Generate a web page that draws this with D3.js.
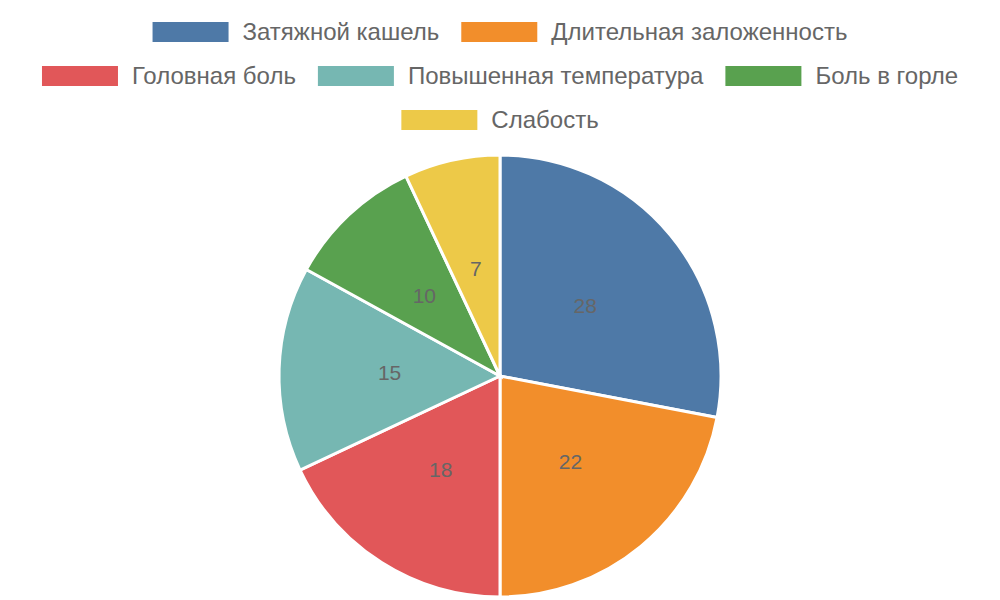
<!DOCTYPE html>
<html>
<head>
<meta charset="utf-8">
<script src="https://cdn.jsdelivr.net/npm/d3@7"></script>
<style>
  body { margin: 0; background: #fff; }
  svg { display: block; font-family: "Liberation Sans", Arial, sans-serif; }
</style>
</head>
<body>
<div id="chart"></div>
<script>
var categories = ["Затяжной кашель", "Длительная заложенность", "Головная боль",
                  "Повышенная температура", "Боль в горле", "Слабость"];
var values = [28, 22, 18, 15, 10, 7];
var colors = ["#4e79a7", "#f28e2b", "#e15759", "#76b7b2", "#59a14f", "#edc948"];

var wid = 1000, heig = 600;
var cx = 500, cy = 376, radius = 221;

var svg = d3.select("#chart").append("svg")
    .attr("width", wid)
    .attr("height", heig);

// legend, wrapped into centered rows like the original
var legend = svg.append("g").attr("class", "legend");
var boxW = 76, boxH = 20, boxGap = 14, itemGap = 22, rowH = 44, maxRow = 940;

var items = categories.map(function(c, i) {
  var g = legend.append("g");
  g.append("rect")
    .attr("width", boxW)
    .attr("height", boxH)
    .attr("y", -boxH / 2)
    .attr("fill", colors[i]);
  var t = g.append("text")
    .attr("x", boxW + boxGap)
    .attr("dy", "0.35em")
    .style("font-size", "24px")
    .style("fill", "#666")
    .text(c);
  return { g: g, w: boxW + boxGap + t.node().getComputedTextLength() };
});

var rows = [[]], rowW = [0];
items.forEach(function(it) {
  var r = rows.length - 1;
  var add = rows[r].length ? itemGap + it.w : it.w;
  if (rows[r].length && rowW[r] + add > maxRow) {
    rows.push([it]); rowW.push(it.w);
  } else {
    rows[r].push(it); rowW[r] += add;
  }
});
rows.forEach(function(row, r) {
  var x = (wid - rowW[r]) / 2;
  row.forEach(function(it) {
    it.g.attr("transform", "translate(" + x + "," + (32 + r * rowH) + ")");
    x += it.w + itemGap;
  });
});

// pie
var pie = d3.pie().sort(null).value(function(d) { return d; });
var arc = d3.arc().innerRadius(0).outerRadius(radius);
var labelArc = d3.arc().innerRadius(radius / 2).outerRadius(radius / 2);

var slices = svg.append("g")
    .attr("transform", "translate(" + cx + "," + cy + ")")
    .selectAll("g.slice")
    .data(pie(values))
    .enter().append("g")
    .attr("class", "slice");

slices.append("path")
    .attr("d", arc)
    .attr("fill", function(d, i) { return colors[i]; })
    .attr("stroke", "#fff")
    .attr("stroke-width", 3);

slices.append("text")
    .attr("transform", function(d) { return "translate(" + labelArc.centroid(d) + ")"; })
    .attr("text-anchor", "middle")
    .attr("dy", "0.35em")
    .style("font-size", "21px")
    .style("fill", "#666")
    .text(function(d) { return d.data; });
</script>
</body>
</html>
